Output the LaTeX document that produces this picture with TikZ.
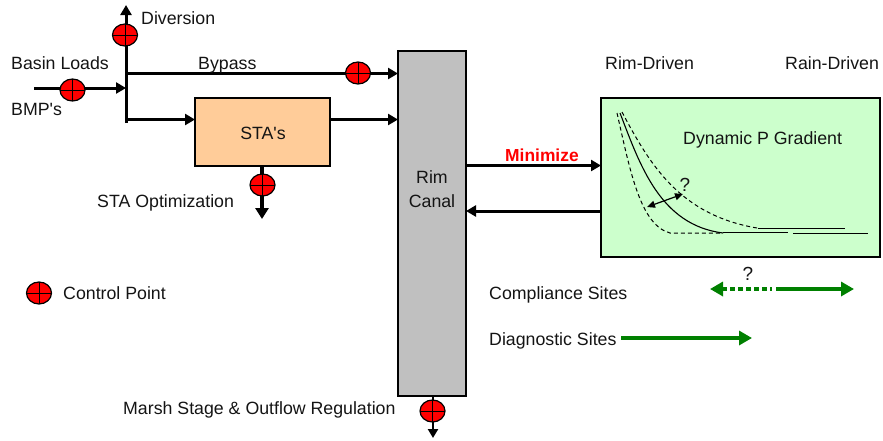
\documentclass[tikz,border=0pt]{standalone}
\usepackage{fontspec}
\setmainfont{Liberation Sans}[Ligatures=TeXOff]
\usetikzlibrary{arrows.meta,shapes.geometric}
\definecolor{sta}{RGB}{255,204,153}
\definecolor{pale}{RGB}{204,255,204}
\definecolor{canal}{RGB}{192,192,192}
\definecolor{dgreen}{RGB}{0,128,0}
\definecolor{txt}{RGB}{20,20,20}
\tikzset{
  x=1pt,y=-1pt,
  flow/.style={line width=3pt,-{Triangle[length=10pt,width=11pt]}},
  thin flow/.style={line width=2.6pt,-{Triangle[length=9pt,width=10pt]}},
  lab/.style={inner sep=0pt,font=\fontsize{17.75}{20}\selectfont,text=txt},
  labw/.style={lab,anchor=base west},
  labc/.style={lab,anchor=base},
  ctrl/.style={ellipse,draw=black,line width=1.2pt,fill=red,minimum width=25pt,minimum height=22pt,inner sep=0pt,
    path picture={\draw[black,line width=1pt] (path picture bounding box.north)--(path picture bounding box.south)
      (path picture bounding box.west)--(path picture bounding box.east);}},
  boxed/.style={draw=black,line width=2.8pt,inner sep=0pt,outer sep=0pt,anchor=north west},
  dashc/.style={black,line width=1pt,dash pattern=on 4pt off 3pt},
  solc/.style={black,line width=1.1pt},
  garrow/.style={dgreen,line width=3.6pt,-{Triangle[length=13pt,width=14pt]}},
}
\begin{document}
\begin{tikzpicture}
\useasboundingbox (0,0) rectangle (883,440);
% boxes
\node[boxed,fill=sta,minimum width=135pt,minimum height=68pt] (sta) at (195,98) {};
\node[boxed,fill=canal,minimum width=68pt,minimum height=345pt] (rim) at (398,51) {};
\node[boxed,fill=pale,minimum width=279pt,minimum height=159pt] (grad) at (601,98) {};
% junction coordinates
\coordinate (jbot) at (126,123);
\coordinate (jtop) at (126,5);
\coordinate (jby) at (126,73.5);
\coordinate (jin) at (126,88);
\coordinate (jsta) at (126,119.5);
\coordinate (start) at (34,88);
\coordinate (stabot) at (262,219);
\coordinate (rimbot) at (433,438);
% connectors
\draw[line width=3pt] (jbot)--(jby);
\draw[flow] (jby)--(jtop);
\draw[flow] (jby)--(jby-|rim.west);
\draw[flow] (start)--(jin);
\draw[flow] (jsta)--(jsta-|sta.west);
\draw[flow] (jsta-|sta.east)--(jsta-|rim.west);
\draw[line width=3.8pt,-{Triangle[length=11pt,width=13pt]}] (262,166)--(stabot);
\draw[thin flow] (433,396)--(rimbot);
\coordinate (m1) at (466,165.5);
\coordinate (m2) at (466,211);
\draw[flow] (m1)--(m1-|grad.west);
\draw[flow] (m2-|grad.west)--(m2);
% control points
\node[ctrl] (c1) at (125,35) {};
\node[ctrl] (c2) at (72.5,90) {};
\node[ctrl] (c3) at (358,73) {};
\node[ctrl] (c4) at (262.5,185) {};
\node[ctrl] (c5) at (432.5,411) {};
\node[ctrl] (c6) at (39,293) {};
% curves
\draw[solc] (620,113) .. controls (640,165) and (660,225) .. (723,233);
\draw[dashc] (617,113) .. controls (630,170) and (640,225) .. (670,233) -- (723,233);
\draw[dashc] (622,112) .. controls (650,165) and (680,215) .. (757,228);
\draw[solc] (757.5,228.5)--(845,228.5);
\draw[solc] (723,232.5)--(788,232.5);
\draw[solc] (793,233.5)--(868,233.5);
\draw[black,line width=1.2pt,{Triangle[length=8pt,width=7pt]}-{Triangle[length=8pt,width=7pt]}] (647,207)--(683,194);
% green arrows
\coordinate (g1) at (710,289);
\coordinate (g2) at (776,289);
\coordinate (g3) at (854,289);
\draw[dgreen,line width=3.6pt,dash pattern=on 4.5pt off 3.5pt] (722,289)--(772,289);
\draw[garrow] (g2)--(g3);
\draw[dgreen,-{Triangle[length=13pt,width=14pt]},line width=3.6pt] (722,289)--(g1);
\coordinate (d1) at (621,338);
\coordinate (d2) at (752,338);
\draw[garrow] (d1)--(d2);
% labels
\node[labw] (t1) at (141,24) {Diversion};
\node[labw] (t2) at (11,69.5) {Basin Loads};
\node[labw] (t3) at (11,115) {BMP's};
\node[labw] (t4) at (198,69) {Bypass};
\node[labc] (t5) at (263,139) {STA's};
\node[labw] (t6) at (97,207.5) {STA Optimization};
\node[labw] (t7) at (63,299.5) {Control Point};
\node[labc] (t8) at (432,183) {Rim};
\node[labc] (t9) at (432,207) {Canal};
\node[labw,font=\fontsize{17.4}{20}\selectfont\bfseries,text=red] (t10) at (505,161.5) {Minimize};
\node[labw] (t11) at (605,69) {Rim-Driven};
\node[labw] (t12) at (785,69) {Rain-Driven};
\node[labw] (t13) at (683,144.5) {Dynamic P Gradient};
\node[labc,font=\fontsize{19}{20}\selectfont] (t14) at (685,191) {?};
\node[labc,font=\fontsize{19}{20}\selectfont] (t15) at (748,280) {?};
\node[labw] (t16) at (489,299) {Compliance Sites};
\node[labw] (t17) at (489,345) {Diagnostic Sites};
\node[labw] (t18) at (123,414.5) {Marsh Stage \& Outflow Regulation};
\end{tikzpicture}
\end{document}
